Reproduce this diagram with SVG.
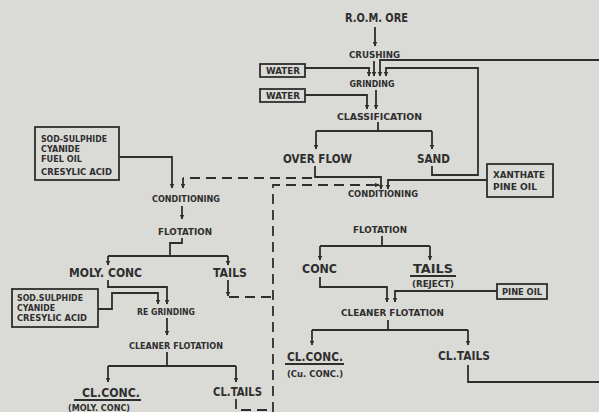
<svg xmlns="http://www.w3.org/2000/svg" width="599" height="412" viewBox="0 0 599 412">
<defs>
<marker id="ah" viewBox="0 0 10 10" refX="9" refY="5" markerWidth="5" markerHeight="5" orient="auto" markerUnits="userSpaceOnUse">
<path d="M0,0 L10,5 L0,10 Z" fill="#2e2e2e"/>
</marker>
<style>
.bg{fill:#dadad6}
.ln{fill:none;stroke:#2e2e2e;stroke-width:1.8}
.ar{fill:none;stroke:#2e2e2e;stroke-width:1.8;marker-end:url(#ah)}
.ds{fill:none;stroke:#2e2e2e;stroke-width:1.8;stroke-dasharray:10 6}
.box{fill:none;stroke:#2e2e2e;stroke-width:1.8}
.s{font-family:"DejaVu Sans",sans-serif;font-weight:bold;font-size:9px;fill:#2e2e2e;text-anchor:middle}
.m{font-family:"DejaVu Sans",sans-serif;font-weight:600;font-size:12px;fill:#2e2e2e;text-anchor:middle}
.r{font-family:"DejaVu Sans",sans-serif;font-weight:bold;font-size:8px;fill:#2e2e2e}
</style>
</defs>
<rect class="bg" x="0" y="0" width="599" height="412"/>

<g id="connectors">
<path class="ar" d="M375,27 V46"/>
<path class="ar" d="M374,61 V76"/>
<path class="ar" d="M305,68 H369 V76"/>
<path class="ar" d="M599,60 H380 V76"/>
<path class="ar" d="M432,166 V175 H478 V68 H386 V76"/>
<path class="ar" d="M376,90 V109"/>
<path class="ar" d="M305,95 H367 V109"/>
<path class="ln" d="M378,122 V131 M316,131 H432"/>
<path class="ar" d="M316,131 V149"/>
<path class="ar" d="M432,131 V149"/>
<path class="ar" d="M315,166 V177 H381 V189"/>
<path class="ar" d="M487,180 H388 V189"/>
<path class="ds" d="M312,178 H183"/>
<path class="ar" d="M183,178 V188"/>
<path class="ds" d="M273,412 V185 H372"/>
<path class="ar" d="M370,185 H379"/>
<path class="ar" d="M119,157 H172 V188"/>
<path class="ar" d="M182,206 V219"/>
<path class="ln" d="M182,238 V243 H170 V256 M108,256 H228"/>
<path class="ar" d="M108,256 V265"/>
<path class="ar" d="M228,256 V265"/>
<path class="ds" d="M228,280 V290"/>
<path class="ar" d="M228,289 V296"/>
<path class="ds" d="M229,297 H273"/>
<path class="ar" d="M108,280 V287 H167 V304"/>
<path class="ar" d="M98,309 H112 V293 H158 V304"/>
<path class="ar" d="M167,318 V335"/>
<path class="ln" d="M167,352 V366 M108,366 H236"/>
<path class="ar" d="M108,366 V382"/>
<path class="ar" d="M236,366 V382"/>
<path class="ds" d="M236,399 V410 H273"/>
<path class="ln" d="M382,236 V246 M320,246 H430"/>
<path class="ar" d="M320,246 V260"/>
<path class="ar" d="M430,246 V260"/>
<path class="ar" d="M320,277 V287 H387 V302"/>
<path class="ar" d="M497,291 H395 V302"/>
<path class="ln" d="M388,320 V330 M312,330 H468"/>
<path class="ar" d="M312,330 V345"/>
<path class="ar" d="M468,330 V345"/>
<path class="ln" d="M468,365 V382 H599"/>
</g>

<g id="rom"><text class="m" x="376.5" y="22" textLength="63" lengthAdjust="spacingAndGlyphs">R.O.M. ORE</text></g>
<g id="crushing"><text class="s" x="374.5" y="58" textLength="51" lengthAdjust="spacingAndGlyphs">CRUSHING</text></g>
<g id="water1"><rect class="box" x="260" y="64" width="45" height="13"/><text class="r" x="266" y="74" textLength="34" lengthAdjust="spacingAndGlyphs">WATER</text></g>
<g id="grinding"><text class="s" x="372" y="87" textLength="45" lengthAdjust="spacingAndGlyphs">GRINDING</text></g>
<g id="water2"><rect class="box" x="260" y="89" width="45" height="13"/><text class="r" x="266" y="99" textLength="34" lengthAdjust="spacingAndGlyphs">WATER</text></g>
<g id="classification"><text class="s" x="379.5" y="120" textLength="85" lengthAdjust="spacingAndGlyphs">CLASSIFICATION</text></g>
<g id="overflow"><text class="m" x="317.5" y="163" textLength="69" lengthAdjust="spacingAndGlyphs">OVER FLOW</text></g>
<g id="sand"><text class="m" x="433.5" y="163" textLength="33" lengthAdjust="spacingAndGlyphs">SAND</text></g>
<g id="xanthate"><rect class="box" x="487" y="164" width="66" height="33"/><text class="r" x="493" y="178" textLength="52" lengthAdjust="spacingAndGlyphs">XANTHATE</text><text class="r" x="493" y="190" textLength="44" lengthAdjust="spacingAndGlyphs">PINE OIL</text></g>
<g id="conditioning-r"><text class="s" x="383" y="197" textLength="70" lengthAdjust="spacingAndGlyphs">CONDITIONING</text></g>
<g id="flotation-r"><text class="s" x="380" y="233" textLength="54" lengthAdjust="spacingAndGlyphs">FLOTATION</text></g>
<g id="conc-r"><text class="m" x="319.5" y="273" textLength="35" lengthAdjust="spacingAndGlyphs">CONC</text></g>
<g id="tails-r"><text class="m" x="433" y="273" textLength="40" lengthAdjust="spacingAndGlyphs">TAILS</text><path class="ln" d="M410,276 H456"/><text class="r" x="433" y="287" text-anchor="middle" textLength="42" lengthAdjust="spacingAndGlyphs">(REJECT)</text></g>
<g id="pineoil"><rect class="box" x="497" y="284" width="50" height="15"/><text class="r" x="502" y="295" textLength="40" lengthAdjust="spacingAndGlyphs">PINE OIL</text></g>
<g id="cleaner-r"><text class="s" x="392.5" y="316" textLength="103" lengthAdjust="spacingAndGlyphs">CLEANER FLOTATION</text></g>
<g id="clconc-r"><text class="m" x="315" y="361" textLength="56" lengthAdjust="spacingAndGlyphs">CL.CONC.</text><path class="ln" d="M285,364 H344"/><text class="r" x="315" y="377" text-anchor="middle" textLength="56" lengthAdjust="spacingAndGlyphs">(Cu. CONC.)</text></g>
<g id="cltails-r"><text class="m" x="464" y="360" textLength="52" lengthAdjust="spacingAndGlyphs">CL.TAILS</text></g>

<g id="reagents1"><rect class="box" x="35" y="127" width="84" height="53"/><text class="r" x="41" y="142" textLength="66" lengthAdjust="spacingAndGlyphs">SOD-SULPHIDE</text><text class="r" x="41" y="152" textLength="39" lengthAdjust="spacingAndGlyphs">CYANIDE</text><text class="r" x="41" y="162" textLength="41" lengthAdjust="spacingAndGlyphs">FUEL OIL</text><text class="r" x="41" y="175" textLength="71" lengthAdjust="spacingAndGlyphs">CRESYLIC ACID</text></g>
<g id="conditioning-l"><text class="s" x="186" y="202" textLength="68" lengthAdjust="spacingAndGlyphs">CONDITIONING</text></g>
<g id="flotation-l"><text class="s" x="185" y="235" textLength="54" lengthAdjust="spacingAndGlyphs">FLOTATION</text></g>
<g id="molyconc"><text class="m" x="105.5" y="277" textLength="73" lengthAdjust="spacingAndGlyphs">MOLY. CONC</text></g>
<g id="tails-l"><text class="m" x="230" y="277" textLength="34" lengthAdjust="spacingAndGlyphs">TAILS</text></g>
<g id="reagents2"><rect class="box" x="12" y="289" width="86" height="38"/><text class="r" x="17" y="301" textLength="66" lengthAdjust="spacingAndGlyphs">SOD.SULPHIDE</text><text class="r" x="17" y="311" textLength="38" lengthAdjust="spacingAndGlyphs">CYANIDE</text><text class="r" x="17" y="321" textLength="70" lengthAdjust="spacingAndGlyphs">CRESYLIC ACID</text></g>
<g id="regrinding"><text class="s" x="166" y="315" textLength="58" lengthAdjust="spacingAndGlyphs">RE GRINDING</text></g>
<g id="cleaner-l"><text class="s" x="176" y="349" textLength="94" lengthAdjust="spacingAndGlyphs">CLEANER FLOTATION</text></g>
<g id="clconc-l"><text class="m" x="111" y="397" textLength="58" lengthAdjust="spacingAndGlyphs">CL.CONC.</text><path class="ln" d="M74,400 H141"/><text class="r" x="99" y="411" text-anchor="middle" textLength="62" lengthAdjust="spacingAndGlyphs">(MOLY. CONC)</text></g>
<g id="cltails-l"><text class="m" x="237.5" y="396" textLength="49" lengthAdjust="spacingAndGlyphs">CL.TAILS</text></g>
</svg>
